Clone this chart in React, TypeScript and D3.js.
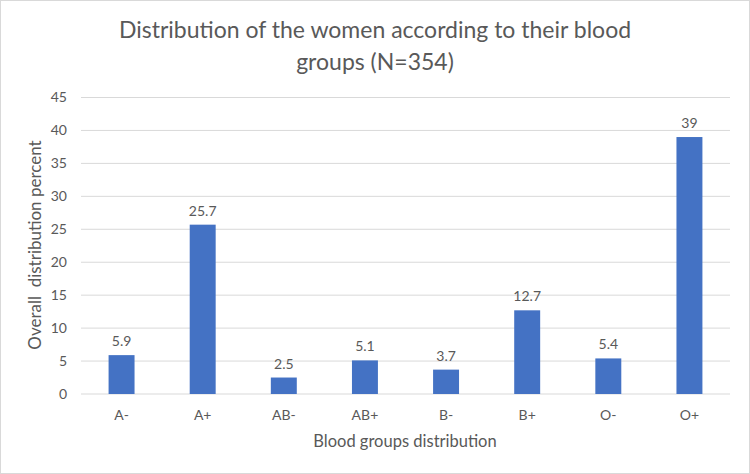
import React from "react";
import * as d3 from "d3";

const categories = ["A-", "A+", "AB-", "AB+", "B-", "B+", "O-", "O+"];
const values = [5.9, 25.7, 2.5, 5.1, 3.7, 12.7, 5.4, 39];
const yTicks = [0, 5, 10, 15, 20, 25, 30, 35, 40, 45];
const titleLines = ["Distribution of the women according to their blood", "groups (N=354)"];
const xTitle = "Blood groups distribution";
const yTitle = "Overall  distribution percent";

const W = 750;
const H = 474;
const FONT = "Lato, 'Open Sans', sans-serif";
const TXT = "#595959";

export default function App() {
  const left = 81, right = 730, top = 97.5, bottom = 394;
  const x = d3.scaleBand<string>().domain(categories).range([left, right]).paddingInner(0.68).paddingOuter(0.34);
  const y = d3.scaleLinear().domain([0, 45]).range([bottom, top]);
  return (
    <svg width={W} height={H} style={{ position: "absolute", left: 0, top: 0, background: "#fff" }} fontFamily={FONT}>
      <rect x={0.5} y={0.5} width={W - 1} height={H - 1} fill="#fff" stroke="#d9d9d9" />
      {titleLines.map((t, i) => (
        <text key={i} x={375} y={38 + i * 32} textAnchor="middle" fontSize={23} fill={TXT}>{t}</text>
      ))}
      {yTicks.map((t) => (
        <g key={t}>
          <line x1={left} x2={right} y1={y(t)} y2={y(t)} stroke="#d9d9d9" strokeWidth={1} />
          <text x={67} y={y(t)} dy="0.35em" textAnchor="end" fontSize={14} fill={TXT}>{t}</text>
        </g>
      ))}
      {categories.map((c, i) => (
        <g key={c}>
          <rect x={x(c)} y={y(values[i])} width={x.bandwidth()} height={bottom - y(values[i])} fill="#4472C4" />
          <text x={(x(c) as number) + x.bandwidth() / 2} y={y(values[i]) - 9} textAnchor="middle" fontSize={14} fill={TXT}>{values[i]}</text>
          <text x={(x(c) as number) + x.bandwidth() / 2} y={420} textAnchor="middle" fontSize={14} fill={TXT}>{c}</text>
        </g>
      ))}
      <text x={405} y={447} textAnchor="middle" fontSize={16.5} fill={TXT}>{xTitle}</text>
      <text transform={`translate(41,245) rotate(-90)`} textAnchor="middle" fontSize={17} fill={TXT} style={{ whiteSpace: "pre" }}>{yTitle}</text>
    </svg>
  );
}
